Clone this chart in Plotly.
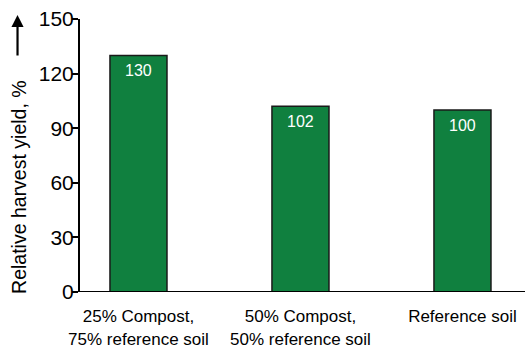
import plotly.graph_objects as go

# Harvest yield relative to the reference soil
categories = ["25% Compost,<br>75% reference soil",
              "50% Compost,<br>50% reference soil",
              "Reference soil"]
yield_pct = [130, 102, 100]
yticks = [0, 30, 60, 90, 120, 150]

FONT = "Liberation Sans, Arial, sans-serif"
GREEN = "#10803f"

fig = go.Figure(go.Bar(
    x=categories,
    y=yield_pct,
    width=0.352,
    marker=dict(color=GREEN, line=dict(color="#1a1a1a", width=1.5)),
    cliponaxis=False,
))

# value labels just below the top of each bar
value_labels = [
    dict(x=c, y=v, xref="x", yref="y", text=str(v), showarrow=False,
         yanchor="middle", yshift=-15,
         font=dict(family=FONT, size=16, color="white"))
    for c, v in zip(categories, yield_pct)
]

fig.update_layout(
    width=525, height=347,
    margin=dict(l=80, r=0, t=19, b=55, autoexpand=False),
    plot_bgcolor="white", paper_bgcolor="white",
    showlegend=False,
    font=dict(family=FONT, color="black"),
    xaxis=dict(
        range=[-0.361, 2.386], automargin=False,
        showline=False, showgrid=False, zeroline=False,
        ticks="outside", ticklen=9, tickcolor="rgba(0,0,0,0)",
        tickfont=dict(family=FONT, size=17, color="black"),
    ),
    yaxis=dict(
        range=[0, 150], tickvals=yticks, automargin=False,
        showline=True, linecolor="black", linewidth=2,
        ticks="outside", ticklen=6, tickwidth=2, tickcolor="black",
        ticklabelstandoff=-6,
        showgrid=False, zeroline=False,
        tickfont=dict(family=FONT, size=21, color="black"),
    ),
    shapes=[dict(type="line", xref="paper", yref="y",
                 x0=-0.0135, x1=1, y0=0, y1=0,
                 line=dict(color="black", width=2))],
    annotations=value_labels + [
        dict(text="Relative harvest yield, %", textangle=-90,
             xref="paper", yref="paper", x=-0.137, y=0.385,
             xanchor="center", yanchor="middle",
             showarrow=False, font=dict(family=FONT, size=19.5, color="black")),
        dict(text="", xref="paper", yref="paper", x=-0.1404, y=1.0147,
             ax=0, ay=42, showarrow=True, arrowhead=2, arrowsize=1.1,
             arrowwidth=2.2, arrowcolor="black"),
    ],
)

fig.write_html("out.html")
